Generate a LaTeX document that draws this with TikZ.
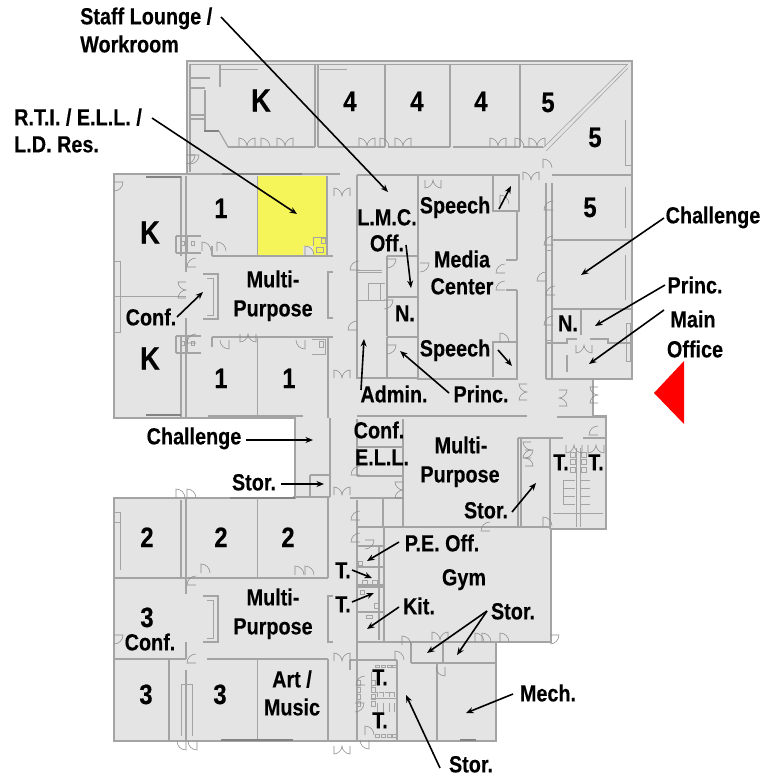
\documentclass[tikz,border=0pt]{standalone}
\usepackage{fontspec}
\setmainfont[FakeStretch=0.85,BoldFeatures={FakeBold=0.25}]{Liberation Sans}
\definecolor{floor}{HTML}{E4E4E4}
\definecolor{wallc}{HTML}{A4A4A4}
\definecolor{roomyellow}{HTML}{F5F55A}
\usetikzlibrary{arrows.meta}
\tikzset{
  wall/.style={draw=wallc,line width=1.2pt},
  thinwall/.style={draw=wallc,line width=.6pt},
  strip/.style={draw=wallc!80!black,line width=2pt},
  doorline/.style={draw=wallc!85!black,line width=.55pt},
  lab/.style={font=\fontsize{23.3}{23.3}\selectfont\bfseries,inner sep=0pt,text=black,text height=16.7pt,text depth=0pt},
  num/.style={font=\fontsize{28}{28}\selectfont\bfseries,inner sep=0pt,text=black,text height=20pt,text depth=0pt},
  numk/.style={font=\fontsize{32}{32}\selectfont\bfseries,inner sep=0pt,text=black,text height=23pt,text depth=0pt},
  arr/.style={draw=black,line width=1.6pt,-{Stealth[length=7.5pt,width=6pt]}},
  redmark/.style={fill=red,draw=none}
}
\newcommand{\dbldoor}[3]{\draw[doorline,shift={(#1,#2)},rotate=#3] (-8,0)--(-8,-8) .. controls (-4,-8) and (0,-4) .. (0,0) .. controls (0,-4) and (4,-8) .. (8,-8) -- (8,0);}
\newcommand{\sngdoor}[3]{\draw[doorline,shift={(#1,#2)},rotate=#3] (-5,0)--(-5,-9) .. controls (0,-9) and (4,-5) .. (4,0);}
\begin{document}
\begin{tikzpicture}[x=1pt,y=-1pt]
\useasboundingbox (0,0) rectangle (761,776);
% floor
\path[fill=floor,wall] (187,61)--(632,61)--(632,379)--(593,379)--(593,416)--(606,416)--(606,529)--(551,529)--(551,642)--(496,642)--(496,741)--(114,741)--(114,498)--(295,498)--(295,418)--(114,418)--(114,174)--(187,174)--cycle;
% yellow room
\fill[roomyellow] (257,176)--(327,176)--(327,256)--(313,256)--(313,246)--(303,246)--(303,256)--(257,256)--cycle;
% north classrooms
\draw[thinwall] (190,64)--(628,64) (221,69)--(258,69) (320,69)--(347,69);
\draw[wall] (228,147)--(315,147) (318,147)--(385,147) (388,147)--(450,147) (453,147)--(520,147) (523,147)--(543,147);
\draw[wall] (315,64)--(315,147) (318,64)--(318,147) (385,64)--(385,147) (450,64)--(450,147) (520,64)--(520,147);
\draw[thinwall] (543,148)--(628,64) (546,151)--(628,68);
\draw[wall] (190,64)--(190,172);
\draw[wall] (220,64)--(220,87) (205,90)--(205,130) (190,78)--(210,78) (190,88)--(205,88) (190,115)--(205,115) (190,119)--(205,119);
\draw[strip] (204,131)--(219,131);
\draw[wall] (219,131)--(228,147);
\draw[wall] (552,175)--(632,175) (553,240)--(632,240) (553,309)--(632,309);
\draw[wall] (546,183)--(546,379) (552,183)--(552,379);
\draw[thinwall] (625,120)--(625,165)--(632,165) (625,187)--(625,228) (625,255)--(625,300);
\draw[thinwall] (626,323)--(630,323)--(630,361)--(626,361)--cycle;
\draw[wall] (546,379)--(632,379) (546,343)--(567,343)--(567,339)--(577,339) (590,339)--(608,339)--(608,343)--(630,343) (567,355)--(567,372) (581,309)--(581,335);
\draw[thinwall] (546,340)--(552,340) (553,250)--(547,250);
% media center
\draw[wall] (418,175)--(418,379)--(517,379)--(517,342)--(493,342)--(493,377);
\draw[wall] (418,175)--(519,175)--(519,211)--(493,211)--(493,175);
\draw[wall] (517,211)--(517,260) (517,290)--(517,342);
\draw[wall] (506,260)--(517,260) (506,290)--(517,290);
% LMC / admin
\draw[wall] (357,175)--(418,175) (357,175)--(357,378)--(418,378);
\draw[wall] (387,256)--(418,256) (387,256)--(387,336) (387,297)--(418,297) (387,337)--(418,337) (387,337)--(387,378);
\draw[thinwall] (358,270)--(382,270) (358,272)--(382,272) (368,283)--(385,283) (368,283)--(368,300) (380,283)--(380,300) (358,300)--(385,300);
% west block
\draw[wall] (181,176)--(181,256) (186,176)--(186,256);
\draw[wall] (212,256)--(333,256) (212,337)--(333,337) (212,246)--(212,256) (212,337)--(212,347);
\draw[wall] (186,174)--(340,174) (327,176)--(327,256);
\draw[strip] (146,177)--(181,177) (222,174)--(302,174);
\draw[wall] (186,256)--(186,272) (186,318)--(186,418);
\draw[thinwall] (114,296)--(186,296);
\draw[thinwall] (114,261)--(120,261)--(120,332)--(114,332);
\draw[wall] (203,274)--(218,274)--(218,319)--(203,319);
\draw[thinwall] (207,278)--(213,278)--(213,315)--(207,315);
\draw[wall] (333,272)--(328,272)--(328,318)--(333,318);
\draw[wall] (328,337)--(328,418) ;
\draw[thinwall] (257,337)--(257,416);
\draw[thinwall] (257,176)--(257,256);
\draw[wall] (181,337)--(181,418) (186,337)--(186,418);
\draw[strip] (146,415)--(181,415);
\draw[wall] (208,416)--(303,416);
% toilets W
\foreach \xa/\ya in {176/236,176/336}{
  \draw[wall] (\xa,\ya)--(\xa+25,\ya) (\xa,\ya+17)--(\xa+25,\ya+17) (\xa+11,\ya)--(\xa+11,\ya+17) (\xa,\ya)--(\xa,\ya+17);
  \draw[thinwall] (\xa+5,\ya+5) rectangle (\xa+8,\ya+9) (\xa+15,\ya+5) rectangle (\xa+18,\ya+9);
}
\draw[thinwall] (321,238) rectangle (325,243) (316,247) rectangle (323,252) (313,237)--(326,237) (313,237)--(313,246) (312,339)--(325,339)--(325,354)--(312,354) (319,341) rectangle (323,347);
% challenge
\draw[wall] (295,418)--(295,498) (330,418)--(330,497) (310,475)--(330,475) (310,475)--(310,497) (293,497)--(330,497);
% south block
\draw[wall] (114,498)--(230,498) (114,578)--(186,578) (186,578)--(328,578) (186,498)--(186,578) (181,500)--(181,578) (328,498)--(328,578);
\draw[strip] (230,498)--(295,498);
\draw[thinwall] (257,498)--(257,578);
\draw[wall] (114,659)--(186,659) (207,659)--(328,659) (186,670)--(186,741);
\draw[wall] (186,578)--(186,594) (186,642)--(186,659);
\draw[wall] (169,659)--(169,741);
\draw[thinwall] (257,659)--(257,741) (114,522)--(120,522)--(120,570) (114,512)--(120,512)--(120,522);
\draw[thinwall] (181,684)--(192,684) (181,684)--(181,736) (192,684)--(192,736);
\draw[wall] (203,596)--(218,596)--(218,642)--(203,642);
\draw[thinwall] (207,600)--(213,600)--(213,638)--(207,638);
\draw[wall] (333,596)--(328,596)--(328,642)--(333,642);
\draw[wall] (328,659)--(328,741);
\draw[strip] (221,740)--(293,740);
% east of corridor
\draw[wall] (357,416)--(527,416) (357,419)--(357,476) (357,500)--(357,741);
\draw[wall] (403,419)--(403,527) (357,447)--(403,447) (357,476)--(403,476) (350,498)--(403,498) (383,498)--(383,527) (357,527)--(518,527);
\draw[wall] (518,438)--(518,527) (521,438)--(521,527) (518,438)--(563,438) (583,438)--(606,438) (550,438)--(550,529) (518,527)--(551,527);
\draw[wall] (557,417)--(606,417);
\draw[thinwall] (576,448)--(576,527) (580,448)--(580,527);
\draw[wall] (384,527)--(384,642) (357,546)--(384,546) (357,567)--(384,567) (357,585)--(384,585) (357,587)--(384,587) (357,612)--(384,612) (384,642)--(551,642) (357,642)--(384,642);
\draw[wall] (379,546)--(379,640);
\draw[wall] (411,642)--(411,663) (443,642)--(443,663) (411,663)--(496,663) (437,663)--(437,741) (350,660)--(397,660) (397,660)--(397,741) (350,660)--(350,670);
\draw[thinwall] (371,698)--(397,698) (371,672)--(371,692);
\draw[wall] (496,642)--(496,741);
\draw[strip] (460,740)--(476,740);
% stalls and fixtures
\foreach \ya in {680,687,694,701}{
  \draw[thinwall] (371,\ya) rectangle (375,\ya+5);
  \draw[thinwall] (356,\ya) rectangle (360,\ya+5);
}
\foreach \xa in {377,383,389,394}{
  \draw[thinwall] (\xa,692)--(\xa,697) (\xa,703)--(\xa,712) (\xa-4,692)--(\xa,692);
}
\foreach \xa in {377,383,389,394}{
  \draw[thinwall] (\xa-2,734) rectangle (\xa+2,737) (\xa-2,665) rectangle (\xa+2,667);
}
\foreach \ya in {452,459,467}{
  \draw[thinwall] (570,\ya) rectangle (575,\ya+5) (581,\ya) rectangle (586,\ya+5);
}
\foreach \ya in {480,488,496,504}{
  \draw[thinwall] (563,\ya)--(575,\ya) (581,\ya)--(590,\ya);
}
\draw[thinwall] (563,480)--(563,504) (553,513)--(603,513);
% fixtures in small rooms
\draw[thinwall] (358,561) rectangle (362,565) (362,580) rectangle (367,584) (372,580) rectangle (377,584) (360,590) rectangle (364,594) (374,603) rectangle (378,608) (366,615) rectangle (372,618);
% double doors
\foreach \xa/\ya/\ra in {247/146/0,285/146/0,367/146/0,403/146/0,498/146/0,537/146/0,342/196/0,433/180/180,531/180/0,584/345/180,598/395/90,527/392/90,559/398/270,342/378/0,342/495/0,342/661/0,342/746/180,531/450/90,403/490/90,186/290/90,248/334/180,525/458/270,440/640/0,574/445/180,596/445/180}{
  \dbldoor{\xa}{\ya}{\ra}
}
\foreach \xa/\ya/\ra in {266/147/0,385/147/0,520/147/0,190/160/270,186/160/270,114/187/270,114/640/270,181/498/0,192/498/0,181/741/180,192/741/180,548/168/0,553/205/90,553/240/90,546/276/90,555/290/90,553/320/90,359/265/90,387/264/270,387/350/270,384/305/270,357/325/90,420/268/270,505/268/90,505/285/90,505/204/0,505/342/0,207/251/0,222/251/0,310/255/0,300/340/180,224/340/180,196/262/90,196/338/90,196/580/90,196/658/90,206/573/0,300/575/0,310/575/0,505/642/0,480/642/0,487/642/0,407/645/0,400/660/0,550/640/270,365/680/90,365/545/270,490/526/90,548/526/0,598/430/90,355/708/270,370/735/0,440/667/180,364/740/180,360/470/90,360/515/90,360/537/90}{
  \sngdoor{\xa}{\ya}{\ra}
}
% red marker
\fill[redmark] (684,361)--(684,424)--(654,393)--cycle;
% labels
\node[lab,anchor=west] (staff) at (80,16) {Staff Lounge /};
\node[lab,anchor=west] (work) at (80,44) {Workroom};
\node[lab,anchor=west] (rti) at (14,117) {R.T.I. / E.L.L. /};
\node[lab,anchor=west] (ld) at (14,144) {L.D. Res.};
\node[numk] at (261,100) {K};
\node[num] at (350,101) {4};
\node[num] at (417,101) {4};
\node[num] at (481,101) {4};
\node[num] at (548,102) {5};
\node[num] at (595,137) {5};
\node[num] at (590,207) {5};
\node[num] at (221,208) {1};
\node[numk] at (150,232) {K};
\node[numk] at (150,358) {K};
\node[num] at (221,378) {1};
\node[num] at (289,378) {1};
\node[lab] at (387,217) {L.M.C.};
\node[lab] (off) at (387,243) {Off.};
\node[lab] (sp1) at (455,205) {Speech};
\node[lab] at (462,259) {Media};
\node[lab] at (462,286) {Center};
\node[lab] at (273,279) {Multi-};
\node[lab] at (273,308) {Purpose};
\node[lab] (conf1) at (151,317) {Conf.};
\node[lab] at (405,313) {N.};
\node[lab] at (568,323) {N.};
\node[lab] (sp2) at (455,348) {Speech};
\node[lab] (adm) at (394,394) {Admin.};
\node[lab] (pr1) at (481,394) {Princ.};
\node[lab] (ch1) at (713,215) {Challenge};
\node[lab] (pr2) at (695,285) {Princ.};
\node[lab] at (693,319) {Main};
\node[lab] (mo) at (695,349) {Office};
\node[lab] (ch2) at (194,436) {Challenge};
\node[lab] (st1) at (254,482) {Stor.};
\node[lab] at (379,430) {Conf.};
\node[lab] at (382,457) {E.L.L.};
\node[lab] at (461,445) {Multi-};
\node[lab] at (460,474) {Purpose};
\node[lab] (st2) at (486,510) {Stor.};
\node[lab] at (561,462) {T.};
\node[lab] at (596,462) {T.};
\node[num] at (147,537) {2};
\node[num] at (221,537) {2};
\node[num] at (288,537) {2};
\node[lab] (pe) at (442,543) {P.E. Off.};
\node[lab] at (464,577) {Gym};
\node[lab] (t1) at (343,570) {T.};
\node[lab] (t2) at (343,604) {T.};
\node[lab] (kit) at (419,606) {Kit.};
\node[lab] (st3) at (513,611) {Stor.};
\node[lab] at (273,597) {Multi-};
\node[lab] at (273,626) {Purpose};
\node[lab] (conf2) at (150,642) {Conf.};
\node[num] at (147,617) {3};
\node[num] at (146,694) {3};
\node[num] at (220,694) {3};
\node[lab] at (292,679) {Art /};
\node[lab] at (292,707) {Music};
\node[lab] at (380,677) {T.};
\node[lab] at (380,720) {T.};
\node[lab] (mech) at (548,693) {Mech.};
\node[lab] (st4) at (471,764) {Stor.};
% arrows
\draw[arr] (221,17)--(388,192);
\draw[arr] (152,118)--(297,214);
\draw[arr] (177,317)--(203,292);
\draw[arr] (361,390)--(364,339);
\draw[arr] (449,393)--(400,351);
\draw[arr] (406,245)--(411,288);
\draw[arr] (499,209)--(511,186);
\draw[arr] (498,350)--(512,366);
\draw[arr] (664,218)--(581,275);
\draw[arr] (665,285)--(595,326);
\draw[arr] (664,310)--(589,364);
\draw[arr] (246,440)--(313,440);
\draw[arr] (281,484)--(324,484);
\draw[arr] (512,512)--(536,483);
\draw[arr] (399,542)--(367,561);
\draw[arr] (352,570)--(372,578);
\draw[arr] (352,602)--(374,593);
\draw[arr] (399,607)--(367,629);
\draw[arr] (487,611)--(427,653);
\draw[arr] (487,611)--(457,655);
\draw[arr] (513,694)--(466,713);
\draw[arr] (440,768)--(406,695);
\end{tikzpicture}
\end{document}
